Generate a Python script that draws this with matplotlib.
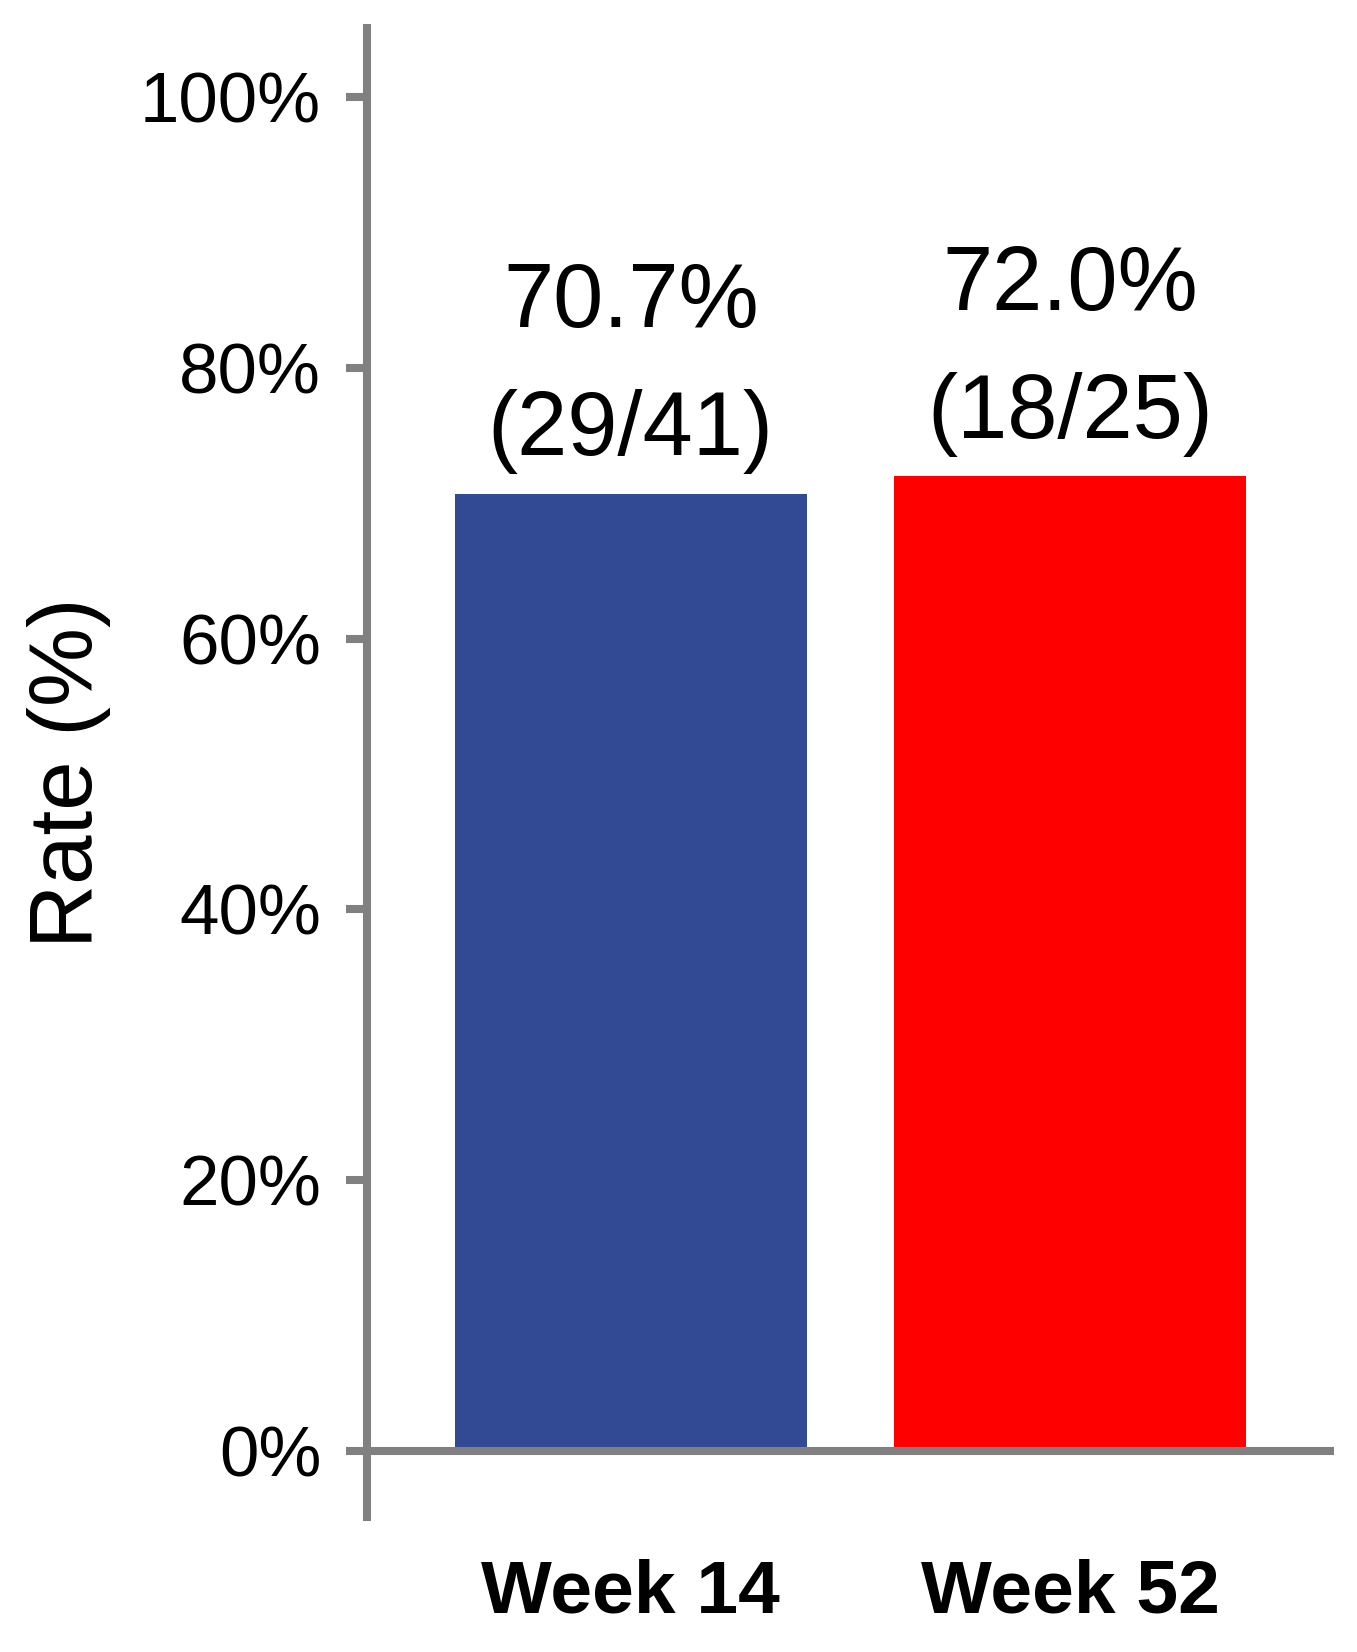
import matplotlib.pyplot as plt

# DATA
weeks = ['Week 14', 'Week 52']
rates = [70.7, 72.0]
responders = [29, 18]
totals = [41, 25]
bar_colors = ['#324A94', '#FF0000']
y_ticks = [0, 20, 40, 60, 80, 100]

GRAY = '#808080'
LW = 5.8  # axis line width in points

plt.rcParams['font.family'] = ['Liberation Sans', 'DejaVu Sans']

fig = plt.figure(figsize=(13.57, 16.52), dpi=100)
ax = fig.add_axes([0.2705, 0.0817, 0.983 - 0.2705, 0.983 - 0.0817])

x = list(range(len(weeks)))
ax.bar(x, rates, width=0.8, color=bar_colors, zorder=2)

# value labels above bars
for xi, r, n, t in zip(x, rates, responders, totals):
    ax.annotate(f'{r:.1f}%\n({n}/{t})', (xi, r), xytext=(0, 14), textcoords='offset points',
                ha='center', va='bottom', fontsize=65, linespacing=1.65)

# zero line
ax.axhline(0, color=GRAY, lw=LW, zorder=3)

ax.set_xlim(-0.6, 1.6)
ax.set_ylim(-4.9, 105.1)

for side in ['top', 'right', 'bottom']:
    ax.spines[side].set_visible(False)
ax.spines['left'].set_color(GRAY)
ax.spines['left'].set_linewidth(LW)

ax.set_yticks(y_ticks)
ax.set_yticklabels([f'{v}%' for v in y_ticks], fontsize=51)
ax.tick_params(axis='y', length=15, width=LW, color=GRAY, pad=18)

ax.set_xticks(x)
ax.set_xticklabels(weeks, fontsize=54, fontweight='bold')
ax.tick_params(axis='x', length=0, pad=30)

ax.set_ylabel('Rate (%)', fontsize=64, labelpad=21)

fig.savefig('out.png', dpi=100)
